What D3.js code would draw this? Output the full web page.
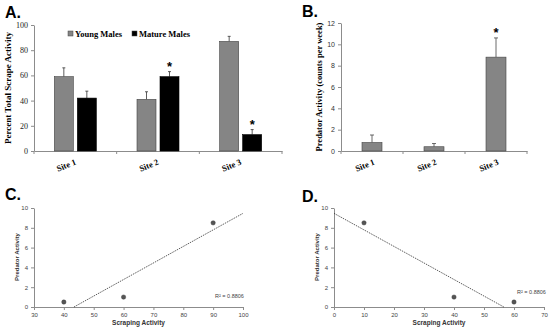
<!DOCTYPE html>
<html>
<head>
<meta charset="utf-8">
<script src="https://cdn.jsdelivr.net/npm/d3@7"></script>
<style>
  body { margin: 0; background: #fff; }
  svg { display: block; }
  .serif { font-family: "Liberation Serif", serif; }
  .sans { font-family: "Liberation Sans", Arial, sans-serif; }
</style>
</head>
<body>
<svg id="chart" width="550" height="331"></svg>
<script>
// Panel A data
const sites = ["Site 1", "Site 2", "Site 3"];
const groupsA = ["Young Males", "Mature Males"];
const youngVals = [59, 41, 87];
const youngErr = [7, 6, 4];
const matureVals = [42, 59, 13];
const matureErr = [5.5, 4, 4];
const starsA = [null, "Mature Males", "Mature Males"];
const ticksA = [0, 20, 40, 60, 80, 100];

// Panel B data
const predVals = [0.8, 0.4, 8.8];
const predErr = [0.7, 0.3, 1.8];
const starsB = [false, false, true];
const ticksB = [0, 2, 4, 6, 8, 10, 12];

// Panel C / D data
const scrapeC = [40, 60, 90];
const predC = [0.5, 1, 8.5];
const scrapeD = [10, 40, 60];
const predD = [8.5, 1, 0.5];
const ticksCx = [30, 40, 50, 60, 70, 80, 90, 100];
const ticksDx = [0, 10, 20, 30, 40, 50, 60, 70];
const ticksCDy = [0, 2, 4, 6, 8, 10];
const r2Label = "R² = 0.8806";

const svg = d3.select("#chart");
const axisColor = "#8c8c8c";

function panelTitle(txt, x, y) {
  svg.append("text").attr("class", "sans")
    .attr("x", x).attr("y", y)
    .style("font-size", "16px").style("font-weight", "bold")
    .text(txt);
}

function styleAxis(g, fontSize, fontClass, color) {
  g.selectAll("path, line").attr("stroke", axisColor);
  g.selectAll("text").attr("class", fontClass)
    .style("font-size", fontSize).attr("fill", color || "#222");
}

// ---------- Panel A ----------
{
  const x = d3.scaleBand().domain(sites).range([34, 282]);
  const y = d3.scaleLinear().domain([0, 100]).range([151, 25]);
  const barW = 19, gap = 4;

  const ax = svg.append("g").attr("transform", "translate(0,151)")
    .call(d3.axisBottom(x).tickSize(0).tickFormat(""));
  ax.selectAll("path, line").attr("stroke", axisColor);
  // category boundary ticks
  svg.append("g").selectAll("line")
    .data([34, ...sites.map(s => x(s) + x.bandwidth())])
    .join("line")
    .attr("x1", d => d).attr("x2", d => d)
    .attr("y1", 151).attr("y2", 154)
    .attr("stroke", axisColor);

  const ay = svg.append("g").attr("transform", "translate(34,0)")
    .call(d3.axisLeft(y).tickValues(ticksA).tickSize(3).tickPadding(3).tickSizeOuter(0));
  styleAxis(ay, "8px", "serif");

  const bars = [
    { vals: youngVals, err: youngErr, fill: "#858585", stroke: "#444", off: -gap / 2 - barW, key: "Young Males" },
    { vals: matureVals, err: matureErr, fill: "#000", stroke: "#000", off: gap / 2, key: "Mature Males" }
  ];
  bars.forEach(b => {
    const g = svg.append("g");
    sites.forEach((s, i) => {
      const cx = x(s) + x.bandwidth() / 2 + b.off;
      const top = y(b.vals[i] + b.err[i]);
      g.append("line")
        .attr("x1", cx + barW / 2).attr("x2", cx + barW / 2)
        .attr("y1", y(b.vals[i])).attr("y2", top)
        .attr("stroke", "#333").attr("stroke-width", 0.8);
      g.append("line")
        .attr("x1", cx + barW / 2 - 1.5).attr("x2", cx + barW / 2 + 1.5)
        .attr("y1", top).attr("y2", top)
        .attr("stroke", "#333").attr("stroke-width", 0.8);
      g.append("rect")
        .attr("x", cx).attr("y", y(b.vals[i]))
        .attr("width", barW).attr("height", y(0) - y(b.vals[i]))
        .attr("fill", b.fill).attr("stroke", b.stroke).attr("stroke-width", 0.6);
      if (starsA[i] === b.key) {
        g.append("text").attr("class", "sans")
          .attr("x", cx + barW / 2).attr("y", top - 1)
          .attr("text-anchor", "middle")
          .style("font-size", "13px").style("font-weight", "bold")
          .text("*");
      }
    });
  });

  // legend
  const legend = [{ t: "Young Males", x: 68, fill: "#858585" }, { t: "Mature Males", x: 132, fill: "#000" }];
  legend.forEach(l => {
    svg.append("rect").attr("x", l.x).attr("y", 31).attr("width", 5).attr("height", 5)
      .attr("fill", l.fill).attr("stroke", "#444").attr("stroke-width", 0.5);
    svg.append("text").attr("class", "serif")
      .attr("x", l.x + 7).attr("y", 36.5)
      .style("font-size", "8.5px").style("font-weight", "bold")
      .text(l.t);
  });

  // site labels
  sites.forEach(s => {
    const cx = x(s) + x.bandwidth() / 2 - 8;
    svg.append("text").attr("class", "serif")
      .attr("transform", `translate(${cx},168) rotate(-22)`)
      .attr("text-anchor", "middle")
      .style("font-size", "8.5px").style("font-weight", "bold")
      .text(s);
  });

  svg.append("text").attr("class", "serif")
    .attr("transform", "translate(11,88) rotate(-90)")
    .attr("text-anchor", "middle")
    .style("font-size", "9px").style("font-weight", "bold")
    .text("Percent Total Scrape Activity");

  panelTitle("A.", 5, 18);
}

// ---------- Panel B ----------
{
  const x = d3.scaleBand().domain(sites).range([341, 527]);
  const y = d3.scaleLinear().domain([0, 12]).range([151, 23]);
  const barW = 20;

  const ax = svg.append("g").attr("transform", "translate(0,151)")
    .call(d3.axisBottom(x).tickSize(0).tickFormat(""));
  ax.selectAll("path, line").attr("stroke", axisColor);
  svg.append("g").selectAll("line")
    .data([341, ...sites.map(s => x(s) + x.bandwidth())])
    .join("line")
    .attr("x1", d => d).attr("x2", d => d)
    .attr("y1", 151).attr("y2", 154)
    .attr("stroke", axisColor);

  const ay = svg.append("g").attr("transform", "translate(341,0)")
    .call(d3.axisLeft(y).tickValues(ticksB).tickSize(3).tickPadding(3).tickSizeOuter(0));
  styleAxis(ay, "7px", "sans", "#333");

  const g = svg.append("g");
  sites.forEach((s, i) => {
    const cx = x(s) + x.bandwidth() / 2;
    const top = y(predVals[i] + predErr[i]);
    g.append("line").attr("x1", cx).attr("x2", cx)
      .attr("y1", y(predVals[i])).attr("y2", top)
      .attr("stroke", "#444").attr("stroke-width", 0.8);
    g.append("line").attr("x1", cx - 2).attr("x2", cx + 2)
      .attr("y1", top).attr("y2", top)
      .attr("stroke", "#444").attr("stroke-width", 0.8);
    g.append("rect")
      .attr("x", cx - barW / 2).attr("y", y(predVals[i]))
      .attr("width", barW).attr("height", y(0) - y(predVals[i]))
      .attr("fill", "#858585").attr("stroke", "#444").attr("stroke-width", 0.6);
    if (starsB[i]) {
      g.append("text").attr("class", "sans")
        .attr("x", cx).attr("y", top - 1)
        .attr("text-anchor", "middle")
        .style("font-size", "13px").style("font-weight", "bold")
        .text("*");
    }
    svg.append("text").attr("class", "serif")
      .attr("transform", `translate(${cx - 6},168) rotate(-22)`)
      .attr("text-anchor", "middle")
      .style("font-size", "8.5px").style("font-weight", "bold")
      .text(s);
  });

  svg.append("text").attr("class", "serif")
    .attr("transform", "translate(322,87) rotate(-90)")
    .attr("text-anchor", "middle")
    .style("font-size", "8.5px").style("font-weight", "bold")
    .text("Predator Activity (counts per week)");

  panelTitle("B.", 302, 17);
}

// ---------- Panels C and D ----------
function scatterPanel(xs, ys, xDomain, xTicks, left, right, r2x, r2y, title, tx, ty) {
  const x = d3.scaleLinear().domain(xDomain).range([left, right]);
  const y = d3.scaleLinear().domain([0, 10]).range([307, 208]);

  const ax = svg.append("g").attr("transform", "translate(0,307)")
    .call(d3.axisBottom(x).tickValues(xTicks).tickSize(3).tickPadding(3).tickSizeOuter(0));
  styleAxis(ax, "6px", "sans", "#444");
  const ay = svg.append("g").attr("transform", `translate(${left},0)`)
    .call(d3.axisLeft(y).tickValues(ticksCDy).tickSize(3).tickPadding(3).tickSizeOuter(0));
  styleAxis(ay, "6px", "sans", "#444");

  // least-squares trendline, clipped to y >= 0
  const mx = d3.mean(xs), my = d3.mean(ys);
  const slope = d3.sum(xs, (v, i) => (v - mx) * (ys[i] - my)) / d3.sum(xs, v => (v - mx) ** 2);
  const icpt = my - slope * mx;
  const x0 = Math.max(xDomain[0], slope > 0 ? -icpt / slope : xDomain[0]);
  const x1 = slope < 0 ? Math.min(xDomain[1], -icpt / slope) : xDomain[1];
  svg.append("line")
    .attr("x1", x(x0)).attr("y1", y(slope * x0 + icpt))
    .attr("x2", x(x1)).attr("y2", y(slope * x1 + icpt))
    .attr("stroke", "#333").attr("stroke-width", 0.8)
    .attr("stroke-dasharray", "1.5 1");

  svg.append("g").selectAll("circle").data(xs).join("circle")
    .attr("cx", d => x(d)).attr("cy", (d, i) => y(ys[i]))
    .attr("r", 2.2).attr("fill", "#555").attr("stroke", "#333").attr("stroke-width", 0.4);

  svg.append("text").attr("class", "sans")
    .attr("x", r2x).attr("y", r2y)
    .style("font-size", "5.5px").attr("fill", "#444")
    .text(r2Label);

  svg.append("text").attr("class", "sans")
    .attr("x", (left + right) / 2).attr("y", 325)
    .attr("text-anchor", "middle")
    .style("font-size", "6.5px").style("font-weight", "bold").attr("fill", "#333")
    .text("Scraping Activity");

  svg.append("text").attr("class", "sans")
    .attr("transform", `translate(${left - 15},257) rotate(-90)`)
    .attr("text-anchor", "middle")
    .style("font-size", "6px").style("font-weight", "bold").attr("fill", "#333")
    .text("Predator Activity");

  panelTitle(title, tx, ty);
}

scatterPanel(scrapeC, predC, [30, 100], ticksCx, 34, 243, 215, 298, "C.", 5, 200);
scatterPanel(scrapeD, predD, [0, 70], ticksDx, 334, 544, 517, 294, "D.", 302, 202);
</script>
</body>
</html>
